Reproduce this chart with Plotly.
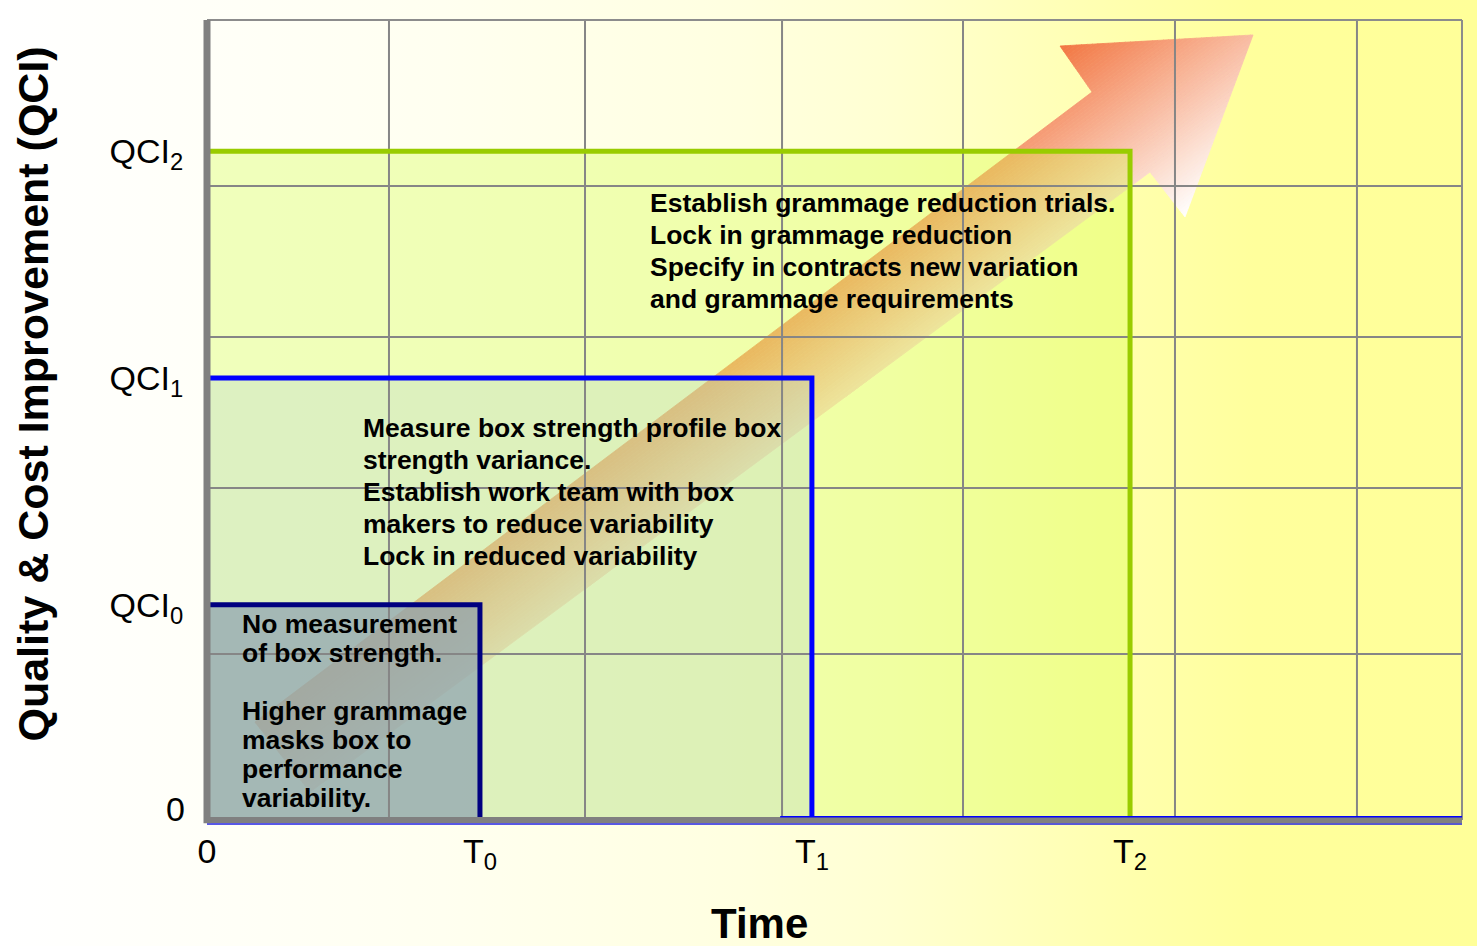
import base64
import numpy as np
import plotly.graph_objects as go

# ---- Stage milestones (time) and the QCI level reached by each stage ----
stage_ticks = ["T<sub>0</sub>", "T<sub>1</sub>", "T<sub>2</sub>"]
stage_times = [21.75, 48.2, 73.55]
qci_ticks = ["QCI<sub>0</sub>", "QCI<sub>1</sub>", "QCI<sub>2</sub>"]
qci_levels = [26.9, 55.25, 83.6]

# Reference grid of the chart
grid_x = [14.5, 30.12, 45.82, 60.24, 77.13, 91.63]
grid_y = [20.75, 41.5, 60.375, 79.25]

# Notes written inside each stage
stage_notes = [
    ["No measurement", "of box strength.", "", "Higher grammage",
     "masks box to", "performance", "variability."],
    ["Measure box strength profile box", "strength variance.",
     "Establish work team with box", "makers to reduce variability",
     "Lock in reduced variability"],
    ["Establish grammage reduction trials.", "Lock in grammage reduction",
     "Specify in contracts new variation", "and grammage requirements"],
]
note_left = [2.65, 12.3, 35.15]
note_top = [24.5, 49.0, 77.1]
note_step = [3.625, 4.0, 4.0]

# Outline of the improvement arrow (tail -> head -> tail)
arrow_x = [3.82, 70.52, 67.97, 83.35, 77.93, 75.14, 8.21]
arrow_y = [12.25, 91.0, 96.75, 98.13, 75.38, 81.0, 3.5]

# Styles per stage
border_colors = ["#000080", "#0000FF", "#99CC00"]
fill_colors = ["rgba(140,160,175,0.70)", "rgba(180,210,210,0.30)", "rgba(204,255,51,0.30)"]

FONT = "Liberation Sans, Arial, sans-serif"

fig = go.Figure()

# ---- Arrow with a gradient across its width, built from parallel strips ----
pts = np.column_stack([arrow_x, arrow_y]).astype(float)
d = pts[1] - pts[0]
normal = np.array([d[1], -d[0]])
proj = pts @ normal
f_lo, f_hi = proj.min(), proj.max()


def clip_half(poly, level, keep_above):
    out = []
    n = len(poly)
    for i in range(n):
        p, q = poly[i], poly[(i + 1) % n]
        fp = p @ normal - level
        fq = q @ normal - level
        if not keep_above:
            fp, fq = -fp, -fq
        if fp >= 0:
            out.append(p)
        if (fp >= 0) != (fq >= 0):
            t = fp / (fp - fq)
            out.append(p + t * (q - p))
    return out


c0 = np.array([242, 118, 66])
c1 = np.array([255, 255, 255])
n_strips = 70
edges = np.linspace(f_lo, f_hi, n_strips + 1)
for k in range(n_strips):
    poly = clip_half(list(pts), edges[k], True)
    if len(poly) < 3:
        continue
    poly = clip_half(poly, edges[k + 1], False)
    if len(poly) < 3:
        continue
    poly = np.array(poly)
    t = (k + 0.5) / n_strips
    c = c0 + (c1 - c0) * t
    col = "rgb(%d,%d,%d)" % tuple(np.round(c).astype(int))
    fig.add_trace(go.Scatter(
        x=np.append(poly[:, 0], poly[0, 0]), y=np.append(poly[:, 1], poly[0, 1]),
        mode="lines", fill="toself", fillcolor=col,
        line=dict(color=col, width=0.8), hoverinfo="skip", showlegend=False))

# ---- Stage areas (largest first so smaller ones sit on top) ----
for i in reversed(range(3)):
    t, q = stage_times[i], qci_levels[i]
    fig.add_trace(go.Scatter(
        x=[0, t, t, 0, 0], y=[0, 0, q, q, 0], mode="lines", fill="toself",
        fillcolor=fill_colors[i], line=dict(width=0), hoverinfo="skip",
        showlegend=False))

shapes = []
grid_line = dict(color="#868686", width=2)
for gx in grid_x:
    shapes.append(dict(type="line", xref="x", yref="y", x0=gx, x1=gx, y0=0, y1=100,
                       line=grid_line, layer="above"))
for gy in grid_y:
    shapes.append(dict(type="line", xref="x", yref="y", x0=0, x1=100, y0=gy, y1=gy,
                       line=grid_line, layer="above"))

# Stage borders: top edge and right edge of each area
for i in reversed(range(3)):
    t, q = stage_times[i], qci_levels[i]
    shapes.append(dict(type="path", xref="x", yref="y",
                       path=f"M 0,{q} L {t},{q} L {t},0",
                       line=dict(color=border_colors[i], width=5), layer="above"))

# Frame
shapes += [
    dict(type="line", xref="paper", yref="paper", x0=0, x1=1, y0=1, y1=1,
         line=dict(color="#8c8c8c", width=2), layer="above"),
    dict(type="line", xref="paper", yref="paper", x0=1, x1=1, y0=0, y1=1,
         line=dict(color="#8c8c8c", width=2), layer="above"),
    dict(type="line", xref="paper", yref="paper", x0=0, x1=1, y0=-0.005, y1=-0.005,
         line=dict(color="#2020e0", width=1.5), layer="above"),
    dict(type="line", xref="paper", yref="paper", x0=0, x1=1, y0=0, y1=0,
         line=dict(color="#808080", width=6), layer="above"),
    dict(type="line", xref="paper", yref="paper", x0=0.4567, x1=1, y0=0.004, y1=0.004,
         line=dict(color="#0000ff", width=1.5), layer="above"),
    dict(type="line", xref="paper", yref="paper", x0=0, x1=0, y0=-0.004, y1=1,
         line=dict(color="#808080", width=7), layer="above"),
]

annotations = []
for i in range(3):
    for j, line in enumerate(stage_notes[i]):
        if not line:
            continue
        annotations.append(dict(
            x=note_left[i], y=note_top[i] - j * note_step[i], xref="x", yref="y",
            text=line, showarrow=False, xanchor="left", yanchor="middle",
            font=dict(family=FONT, size=26.5, color="black", weight="bold")))

annotations += [
    dict(x=0, y=0, xref="x", yref="y", text="0", showarrow=False,
         xanchor="right", yanchor="middle", xshift=-20, yshift=11,
         font=dict(family=FONT, size=34, color="black")),
    dict(x=-0.139, y=0.5325, xref="paper", yref="paper",
         text="Quality & Cost Improvement (QCI)", textangle=-90, showarrow=False,
         xanchor="center", yanchor="middle",
         font=dict(family=FONT, size=43, color="black", weight="bold")),
    dict(x=0.4406, y=-0.129, xref="paper", yref="paper", text="Time",
         showarrow=False, xanchor="center", yanchor="middle",
         font=dict(family=FONT, size=42, color="black", weight="bold")),
]

# Page background: white on the left fading to pale yellow on the right
svg = (
    '<svg xmlns="http://www.w3.org/2000/svg" width="1477" height="946" '
    'preserveAspectRatio="none">'
    '<defs><linearGradient id="g" x1="0" y1="0" x2="1" y2="0">'
    '<stop offset="0" stop-color="#ffffff"/>'
    '<stop offset="0.3" stop-color="#fffff0"/>'
    '<stop offset="0.5" stop-color="#ffffe0"/>'
    '<stop offset="0.6" stop-color="#ffffd2"/>'
    '<stop offset="0.75" stop-color="#ffffb0"/>'
    '<stop offset="0.85" stop-color="#ffff9c"/>'
    '<stop offset="1" stop-color="#ffff99"/>'
    '</linearGradient></defs>'
    '<rect width="1477" height="946" fill="url(#g)"/></svg>'
)
bg_src = "data:image/svg+xml;base64," + base64.b64encode(svg.encode()).decode()

fig.update_layout(
    width=1477, height=946,
    margin=dict(l=207, r=15, t=20, b=126),
    paper_bgcolor="white", plot_bgcolor="rgba(0,0,0,0)",
    showlegend=False,
    images=[dict(source=bg_src, xref="paper", yref="paper",
                 x=-207 / 1255, y=1 + 20 / 800, sizex=1477 / 1255, sizey=946 / 800,
                 xanchor="left", yanchor="top", sizing="stretch", layer="below")],
    shapes=shapes,
    annotations=annotations,
    xaxis=dict(range=[0, 100], showgrid=False, zeroline=False, showline=False,
               tickvals=[0] + stage_times, ticktext=["0"] + stage_ticks,
               ticks="outside", ticklen=1, tickcolor="rgba(0,0,0,0)",
               tickfont=dict(family=FONT, size=34, color="black"), fixedrange=True),
    yaxis=dict(range=[0, 100], showgrid=False, zeroline=False, showline=False,
               tickvals=qci_levels, ticktext=qci_ticks,
               ticks="outside", ticklen=16, tickcolor="rgba(0,0,0,0)",
               tickfont=dict(family=FONT, size=34, color="black"), fixedrange=True),
)

fig.write_html("out.html")
